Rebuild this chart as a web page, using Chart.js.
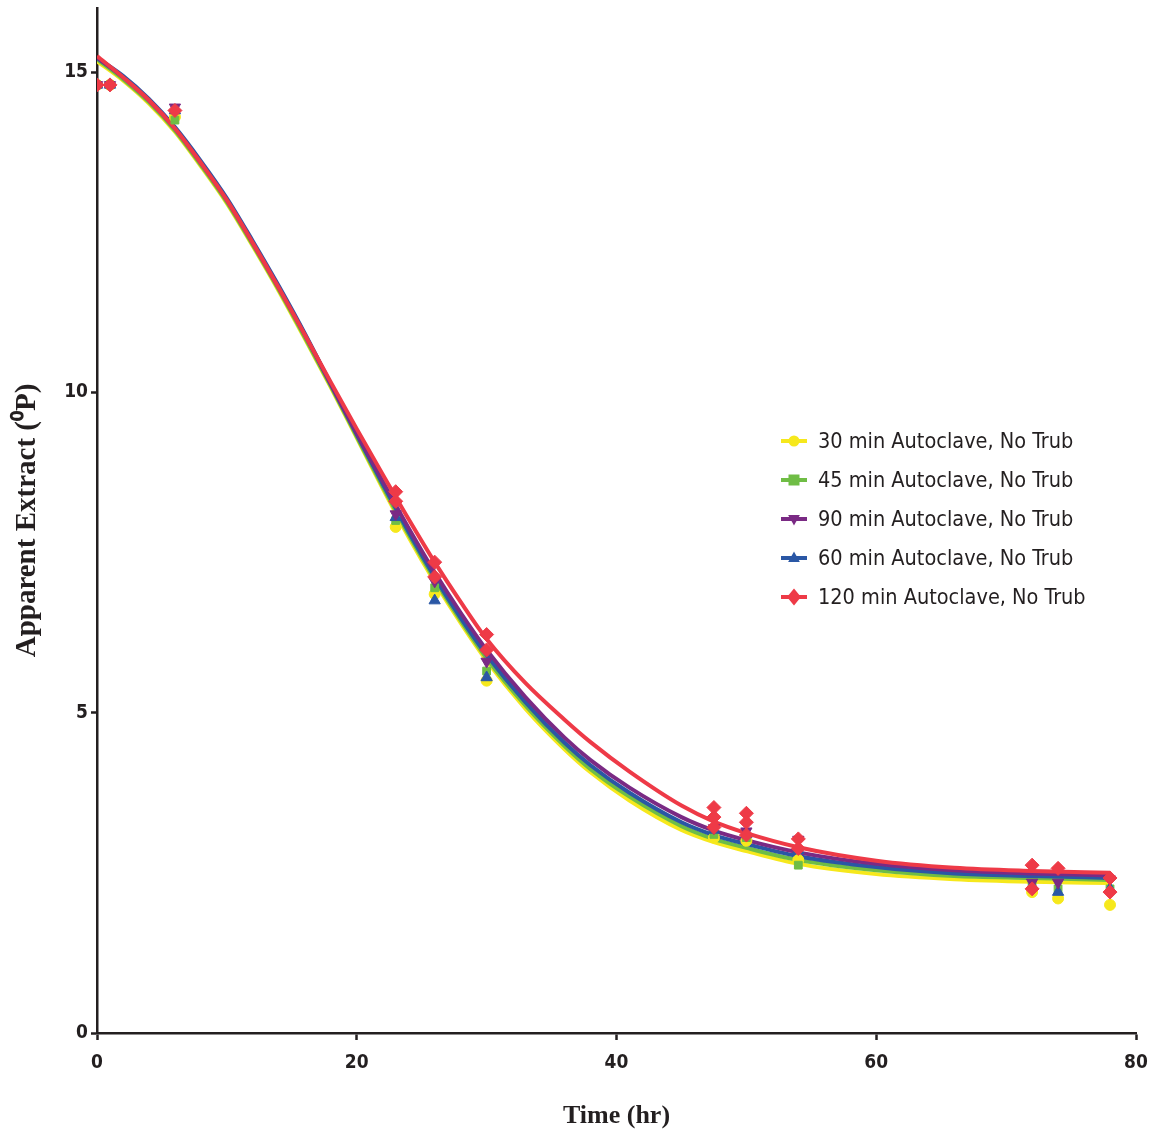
<!DOCTYPE html>
<html>
<head>
<meta charset="utf-8">
<script src="https://cdn.jsdelivr.net/npm/chart.js@4"></script>
<style>
  html, body { margin: 0; padding: 0; background: #fff; }
  #wrap { width: 1152px; height: 1136px; }
</style>
</head>
<body>
<div id="wrap"><canvas id="chart" width="1152" height="1136"></canvas></div>
<script>
// fitted curves
const curveX = [0, 2, 4, 6, 8, 10, 12, 14, 16, 18, 20, 22, 24, 26, 28, 30, 33, 36, 38, 41, 45, 47.5, 50, 54, 60, 66, 72, 78];
const fit30 = [15.17, 14.87, 14.51, 14.07, 13.53, 12.95, 12.28, 11.58, 10.84, 10.08, 9.29, 8.50, 7.74, 7.04, 6.40, 5.81, 5.06, 4.43, 4.07, 3.63, 3.17, 2.98, 2.84, 2.64, 2.48, 2.40, 2.36, 2.34];
const fit45 = [15.20, 14.89, 14.53, 14.09, 13.55, 12.97, 12.30, 11.60, 10.86, 10.10, 9.31, 8.53, 7.78, 7.08, 6.44, 5.85, 5.11, 4.48, 4.12, 3.69, 3.23, 3.03, 2.89, 2.70, 2.54, 2.45, 2.42, 2.39];
const fit90 = [15.23, 14.92, 14.56, 14.12, 13.58, 13.00, 12.33, 11.63, 10.90, 10.13, 9.36, 8.61, 7.88, 7.19, 6.56, 5.98, 5.24, 4.61, 4.26, 3.83, 3.37, 3.16, 3.01, 2.82, 2.64, 2.54, 2.49, 2.46];
const fit60 = [15.22, 14.94, 14.58, 14.14, 13.61, 13.03, 12.36, 11.66, 10.92, 10.13, 9.34, 8.57, 7.82, 7.12, 6.48, 5.90, 5.16, 4.53, 4.18, 3.75, 3.29, 3.09, 2.95, 2.76, 2.59, 2.49, 2.45, 2.42];
const fit120 = [15.25, 14.92, 14.56, 14.12, 13.58, 13.00, 12.33, 11.63, 10.90, 10.16, 9.43, 8.72, 8.02, 7.35, 6.73, 6.15, 5.46, 4.89, 4.54, 4.08, 3.55, 3.30, 3.12, 2.90, 2.69, 2.58, 2.53, 2.50];

// measured points
const ptsX = [0, 1, 6, 23, 26, 30, 47.5, 50, 54, 72, 74, 78];
const pts30 = [14.8, 14.8, 14.3, 7.9, 6.85, 5.5, 3.05, 3.0, 2.7, 2.2, 2.1, 2.0];
const pts45 = [14.8, 14.8, 14.25, 8.0, 6.95, 5.65, 3.1, 3.05, 2.62, 2.3, 2.25, 2.25];
const pts90 = [14.8, 14.8, 14.45, 8.1, 7.05, 5.8, 3.2, 3.15, 3.02, 2.35, 2.35, 2.4];
const pts60 = [14.8, 14.8, 14.4, 8.05, 6.75, 5.55, 3.17, 3.1, 2.85, 2.3, 2.2, 2.25];
const pts120X = [0, 1, 6, 23, 23, 26, 26, 30, 30, 47.5, 47.5, 47.5, 50, 50, 50, 54, 54, 72, 72, 74, 78, 78];
const pts120 = [14.8, 14.8, 14.4, 8.45, 8.3, 7.35, 7.12, 6.22, 5.98, 3.52, 3.37, 3.21, 3.43, 3.29, 3.09, 3.03, 2.88, 2.62, 2.25, 2.57, 2.42, 2.2];

const yTicks = [0, 5, 10, 15];
const xTicks = [0, 20, 40, 60, 80];

const series = [
  { label: '30 min Autoclave, No Trub', color: '#f6e81c', style: 'circle', rot: 0, r: 5.5, fit: fit30, px: ptsX, py: pts30, z: 4 },
  { label: '45 min Autoclave, No Trub', color: '#6fbd45', style: 'rect', rot: 0, r: 5.5, fit: fit45, px: ptsX, py: pts45, z: 3 },
  { label: '90 min Autoclave, No Trub', color: '#7a2a84', style: 'triangle', rot: 180, r: 6.5, fit: fit90, px: ptsX, py: pts90, z: 1 },
  { label: '60 min Autoclave, No Trub', color: '#2a57a5', style: 'triangle', rot: 0, r: 6.5, fit: fit60, px: ptsX, py: pts60, z: 2 },
  { label: '120 min Autoclave, No Trub', color: '#ee3a47', style: 'rectRot', rot: 0, r: 7, fit: fit120, px: pts120X, py: pts120, z: 0 }
];

const axisColor = '#231f20';
const datasets = [];
series.forEach(s => {
  datasets.push({
    label: s.label,
    data: curveX.map((x, i) => ({ x: x, y: s.fit[i] })),
    showLine: true,
    borderColor: s.color,
    borderWidth: 4,
    pointRadius: 0,
    cubicInterpolationMode: 'monotone',
    order: 10 + s.z
  });
  datasets.push({
    label: s.label + ' data',
    data: s.px.map((x, i) => ({ x: x, y: s.py[i] })),
    showLine: false,
    pointStyle: s.style,
    rotation: s.rot,
    pointRadius: s.r,
    backgroundColor: s.color,
    borderColor: s.color,
    borderWidth: 1,
    order: s.z
  });
});

function drawMarker(ctx, style, x, y, r, rot) {
  ctx.beginPath();
  if (style === 'circle') {
    ctx.arc(x, y, r, 0, Math.PI * 2);
  } else if (style === 'rect') {
    ctx.rect(x - r, y - r, 2 * r, 2 * r);
  } else if (style === 'rectRot') {
    ctx.moveTo(x, y - r * 1.2); ctx.lineTo(x + r, y); ctx.lineTo(x, y + r * 1.2); ctx.lineTo(x - r, y);
  } else if (style === 'triangle') {
    const d = rot === 180 ? -1 : 1;
    ctx.moveTo(x, y - d * r); ctx.lineTo(x + r * 0.9, y + d * r * 0.6); ctx.lineTo(x - r * 0.9, y + d * r * 0.6);
  }
  ctx.closePath();
  ctx.fill();
}

const legendPlugin = {
  id: 'insideLegend',
  afterDraw(chart) {
    const ctx = chart.ctx;
    ctx.save();
    ctx.font = '21.5px "DejaVu Sans Condensed", "DejaVu Sans", sans-serif';
    ctx.textBaseline = 'middle';
    ctx.fillStyle = axisColor;
    series.forEach((s, i) => {
      const y = 441 + i * 39;
      ctx.strokeStyle = s.color;
      ctx.lineWidth = 4;
      ctx.beginPath(); ctx.moveTo(781, y); ctx.lineTo(807, y); ctx.stroke();
      ctx.fillStyle = s.color;
      drawMarker(ctx, s.style, 794, y, s.r, s.rot);
      ctx.fillStyle = axisColor;
      ctx.fillText(s.label, 818, y + 1);
    });
    ctx.restore();
  }
};

const tickFont = { family: '"DejaVu Sans Condensed", "Liberation Sans Narrow", sans-serif', size: 19, weight: 'bold' };
const titleFont = { family: '"Liberation Serif", "Times New Roman", serif', weight: 'bold' };

new Chart(document.getElementById('chart'), {
  type: 'scatter',
  data: { datasets: datasets },
  plugins: [legendPlugin],
  options: {
    responsive: false,
    animation: false,
    layout: { padding: { top: 8, right: 16, left: 0, bottom: 0 } },
    plugins: { legend: { display: false }, tooltip: { enabled: false } },
    scales: {
      x: {
        type: 'linear',
        min: 0, max: 80,
        afterBuildTicks: sc => { sc.ticks = xTicks.map(v => ({ value: v })); },
        afterFit: sc => { sc.height = 103; sc.paddingLeft = 0; sc.paddingRight = 0; },
        ticks: { color: axisColor, font: tickFont, padding: 12 },
        grid: { display: true, drawOnChartArea: false, drawTicks: true, tickLength: 7, tickWidth: 2.5, tickColor: axisColor },
        border: { display: true, color: axisColor, width: 2.5 },
        title: { display: true, text: 'Time (hr)', color: axisColor, font: Object.assign({ size: 26 }, titleFont), padding: { top: 0, bottom: 4 } }
      },
      y: {
        type: 'linear',
        min: 0, max: 16,
        afterBuildTicks: sc => { sc.ticks = yTicks.map(v => ({ value: v })); },
        afterFit: sc => { sc.width = 97; sc.paddingTop = 0; sc.paddingBottom = 0; },
        ticks: { color: axisColor, font: tickFont, padding: 3 },
        grid: { display: true, drawOnChartArea: false, drawTicks: true, tickLength: 6, tickWidth: 2.5, tickColor: axisColor },
        border: { display: true, color: axisColor, width: 2.5 },
        title: { display: true, text: 'Apparent Extract (\u2070P)', color: axisColor, font: Object.assign({ size: 29 }, titleFont), padding: { top: 10, bottom: 0 } }
      }
    }
  }
});
</script>
</body>
</html>
